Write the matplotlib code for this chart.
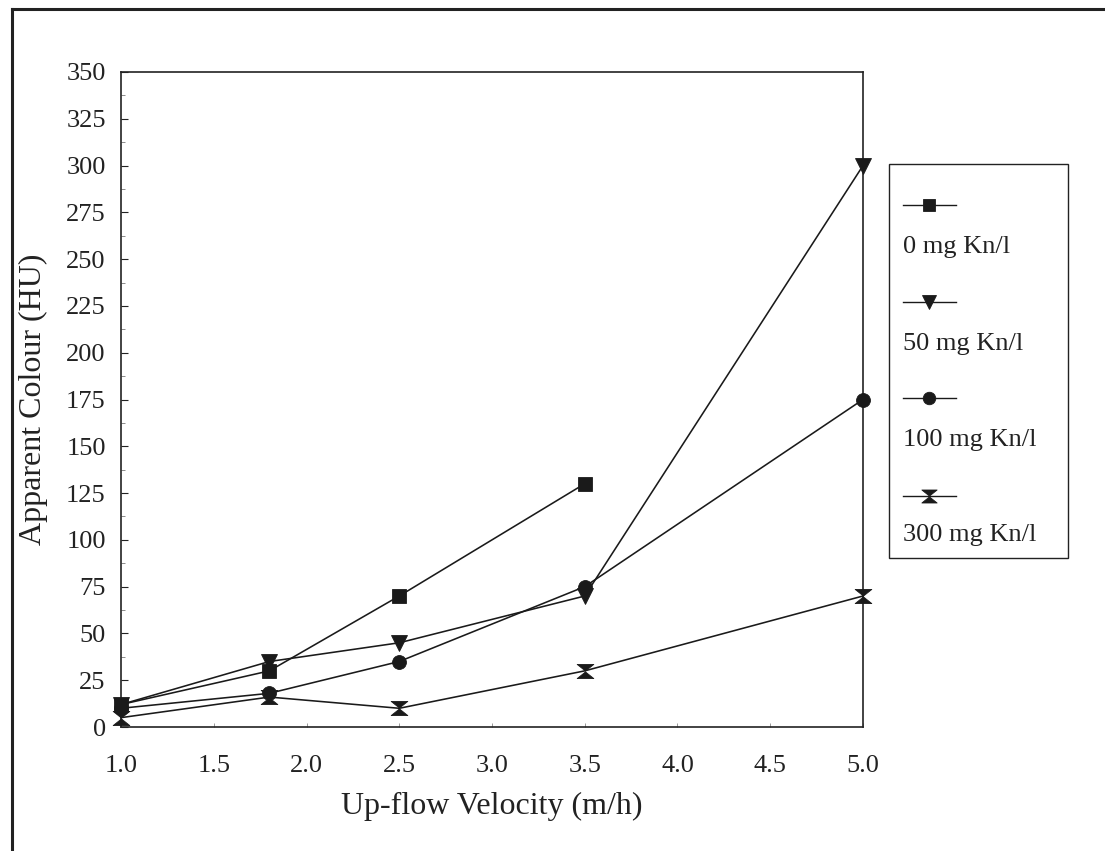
import matplotlib
matplotlib.use("Agg")
import matplotlib.pyplot as plt
from matplotlib.path import Path
from matplotlib.lines import Line2D
from matplotlib.patches import Rectangle
from matplotlib.ticker import MultipleLocator

# Up-flow velocity (m/h)
velocity = [1.0, 1.8, 2.5, 3.5, 5.0]

# Apparent colour (HU) for each coagulant dose
colour_0mg = [12, 30, 70, 130]
colour_50mg = [12, 35, 45, 70, 300]
colour_100mg = [10, 18, 35, 75, 175]
colour_300mg = [5, 16, 10, 30, 70]

dose_labels = ["0 mg Kn/l", "50 mg Kn/l", "100 mg Kn/l", "300 mg Kn/l"]

x_ticks = [1.0, 1.5, 2.0, 2.5, 3.0, 3.5, 4.0, 4.5, 5.0]
y_ticks = list(range(0, 351, 25))

plt.rcParams["font.family"] = ["Liberation Serif", "DejaVu Serif"]

# hourglass marker: two triangles meeting at their tips
hourglass = Path(
    [(-1, 0.85), (1, 0.85), (0, 0.05), (-1, 0.85),
     (-1, -0.85), (1, -0.85), (0, -0.05), (-1, -0.85)],
    [Path.MOVETO, Path.LINETO, Path.LINETO, Path.CLOSEPOLY,
     Path.MOVETO, Path.LINETO, Path.LINETO, Path.CLOSEPOLY],
)

series = [
    (velocity[:len(colour_0mg)], colour_0mg, "s", 10),
    (velocity, colour_50mg, "v", 11),
    (velocity, colour_100mg, "o", 10),
    (velocity, colour_300mg, hourglass, 12),
]

W, H = 1105, 851
fig = plt.figure(figsize=(W / 100, H / 100), dpi=100)
fig.patch.set_facecolor("white")

L, R, T, B = 121, 863, 72, 727
ax = fig.add_axes([L / W, 1 - B / H, (R - L) / W, (B - T) / H])

for xs, ys, mk, ms in series:
    ax.plot(xs, ys, color="#1a1a1a", lw=1.15, marker=mk, markersize=ms,
            markerfacecolor="#1a1a1a", markeredgecolor="#1a1a1a",
            markeredgewidth=0.6, clip_on=False, zorder=3)

ax.set_xlim(1.0, 5.0)
ax.set_ylim(0, 350)
ax.set_xticks(x_ticks)
ax.set_xticklabels([f"{v:.1f}" for v in x_ticks])
ax.set_yticks(y_ticks)
ax.set_yticklabels([str(v) for v in y_ticks])
ax.yaxis.set_minor_locator(MultipleLocator(12.5))

ax.tick_params(axis="both", which="major", direction="in", labelsize=19,
               colors="#222222")
ax.tick_params(axis="y", which="major", length=5, width=0.8, pad=11)
ax.tick_params(axis="y", which="minor", direction="in", length=3,
               width=0.6, color="#777777")
ax.tick_params(axis="x", which="major", length=3, width=0.6, pad=20,
               color="#888888")

for sp in ax.spines.values():
    sp.set_color("#222222")
    sp.set_linewidth(1.2)

ax.set_xlabel("Up-flow Velocity (m/h)", fontsize=23, color="#222222")
ax.set_ylabel("Apparent Colour (HU)", fontsize=23, color="#222222")
ax.xaxis.label.set_va("center")
ax.yaxis.label.set_va("center")
ax.xaxis.set_label_coords(0.5, (B - 806) / (B - T))
ax.yaxis.set_label_coords((33 - L) / (R - L), 0.5)

# overlay in pixel units for the page frame and the legend box
ov = fig.add_axes([0, 0, 1, 1], zorder=5)
ov.set_xlim(0, W)
ov.set_ylim(H, 0)
ov.axis("off")
ov.patch.set_alpha(0)

ov.add_line(Line2D([12, W], [9, 9], color="#222222", lw=2.2))
ov.add_line(Line2D([12, 12], [9, H], color="#222222", lw=2.2))

ov.add_patch(Rectangle((889, 164), 179, 394, fill=False,
                       edgecolor="#222222", lw=1.0))

sample_y = [205, 302, 398, 496]
text_y = [247, 344, 440, 535]
for (xs, ys, mk, ms), label, sy, ty in zip(series, dose_labels, sample_y, text_y):
    ov.add_line(Line2D([903, 956], [sy, sy], color="#1a1a1a", lw=1.0))
    ov.add_line(Line2D([929], [sy], marker=mk, markersize=ms - 1,
                       color="#1a1a1a", markerfacecolor="#1a1a1a",
                       markeredgewidth=0.6))
    ov.text(903, ty, label, fontsize=19, color="#222222",
            ha="left", va="center")

fig.savefig("out.png", dpi=100, facecolor="white")
